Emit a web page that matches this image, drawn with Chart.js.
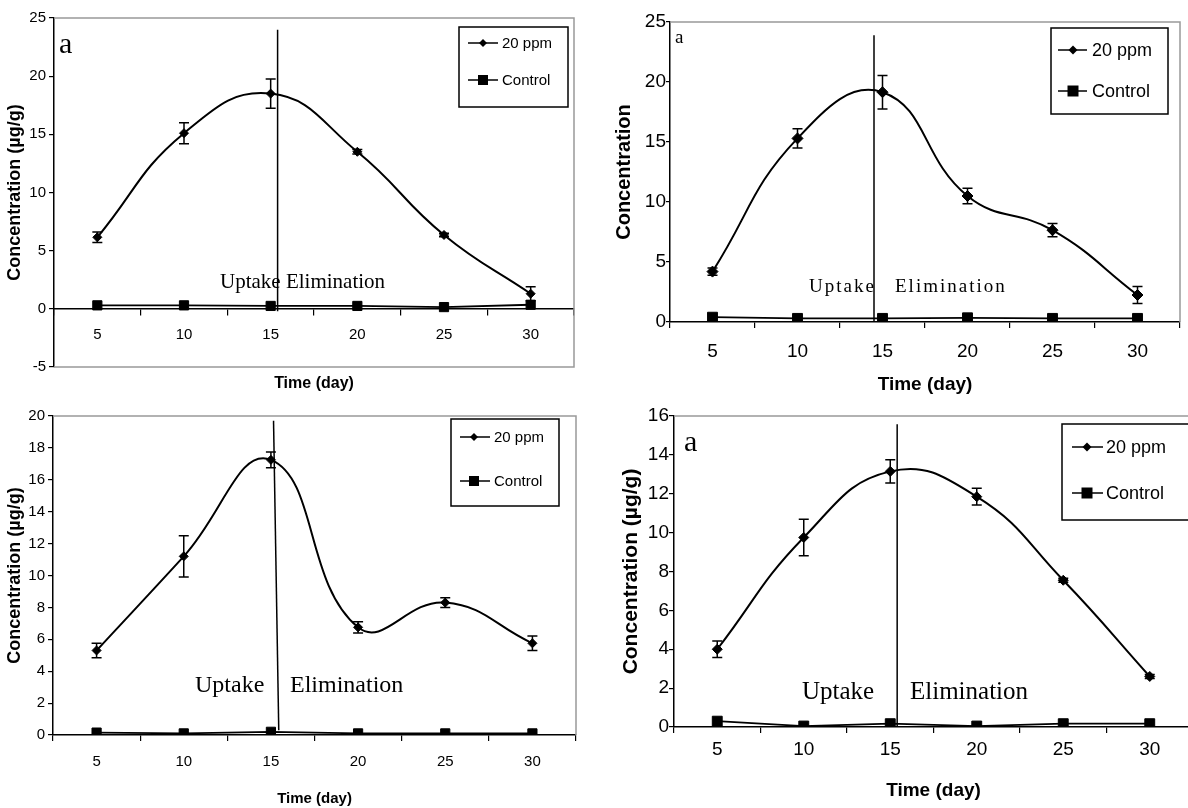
<!DOCTYPE html>
<html>
<head>
<meta charset="utf-8">
<script src="https://cdn.jsdelivr.net/npm/chart.js@4.4.1/dist/chart.umd.min.js"></script>
<style>
  html, body { margin: 0; padding: 0; background: #fff; overflow: hidden; width: 1188px; height: 808px; }
  canvas { position: absolute; }
</style>
</head>
<body>
<canvas id="c1" width="594" height="404" style="left:0;top:0"></canvas>
<canvas id="c2" width="594" height="404" style="left:594px;top:0"></canvas>
<canvas id="c3" width="594" height="404" style="left:0;top:404px"></canvas>
<canvas id="c4" width="620" height="404" style="left:594px;top:404px"></canvas>
<script>
// categories (sampling day)
const days = ['5', '10', '15', '20', '25', '30'];
const seriesNames = ['20 ppm', 'Control'];

// top-left panel
const ppmA = [6.15, 15.1, 18.5, 13.5, 6.35, 1.3];
const ppmAErr = [0.45, 0.9, 1.25, 0.2, 0.15, 0.6];
const controlA = [0.3, 0.3, 0.25, 0.25, 0.15, 0.35];

// top-right panel
const ppmB = [4.2, 15.3, 19.15, 10.5, 7.65, 2.25];
const ppmBErr = [0.3, 0.8, 1.4, 0.65, 0.55, 0.7];
const controlB = [0.4, 0.3, 0.3, 0.35, 0.3, 0.3];

// bottom-left panel
const ppmC = [5.3, 11.2, 17.25, 6.75, 8.3, 5.75];
const ppmCErr = [0.45, 1.3, 0.5, 0.35, 0.3, 0.45];
const controlC = [0.15, 0.1, 0.2, 0.1, 0.1, 0.1];

// bottom-right panel
const ppmD = [4.0, 9.75, 13.15, 11.85, 7.55, 2.6];
const ppmDErr = [0.43, 0.94, 0.6, 0.43, 0.1, 0.1];
const controlD = [0.3, 0.05, 0.17, 0.05, 0.17, 0.17];

Chart.defaults.font.family = 'Liberation Sans';
Chart.defaults.color = '#000';

// frame, divider line, notes, error bars and the boxed legend
const decor = {
  id: 'decor',
  beforeDatasetsDraw(chart, args, o) {
    const { ctx, chartArea: a, scales: { x, y } } = chart;
    ctx.save();
    ctx.strokeStyle = '#999';
    ctx.lineWidth = 1.5;
    ctx.beginPath();
    ctx.moveTo(a.left, a.top);
    ctx.lineTo(a.right, a.top);
    ctx.lineTo(a.right, a.bottom);
    if (o.frameBottom) ctx.lineTo(a.left, a.bottom);
    ctx.stroke();

    ctx.strokeStyle = '#000';
    ctx.lineWidth = 1.5;
    ctx.beginPath();
    ctx.moveTo(x.getPixelForValue(o.divider[0]), y.getPixelForValue(o.dividerTop));
    ctx.lineTo(x.getPixelForValue(o.divider[1]), y.getPixelForValue(o.dividerBottom));
    ctx.stroke();
    ctx.restore();
  },
  afterDatasetsDraw(chart, args, o) {
    const { ctx, scales: { y } } = chart;
    ctx.save();
    // error bars on the 20 ppm series
    const meta = chart.getDatasetMeta(0);
    const vals = chart.data.datasets[0].data;
    ctx.strokeStyle = '#000';
    ctx.lineWidth = 1.5;
    meta.data.forEach((pt, i) => {
      const e = o.errors[i];
      const top = y.getPixelForValue(vals[i] + e);
      const bot = y.getPixelForValue(vals[i] - e);
      ctx.beginPath();
      ctx.moveTo(pt.x, top); ctx.lineTo(pt.x, bot);
      ctx.moveTo(pt.x - 5, top); ctx.lineTo(pt.x + 5, top);
      ctx.moveTo(pt.x - 5, bot); ctx.lineTo(pt.x + 5, bot);
      ctx.stroke();
    });

    // notes inside the plot
    ctx.fillStyle = '#000';
    ctx.textBaseline = 'alphabetic';
    ctx.textAlign = 'left';
    o.notes.forEach(n => {
      ctx.font = n.size + 'px "Liberation Serif"';
      ctx.letterSpacing = (n.spacing || 0) + 'px';
      ctx.fillText(n.text, n.x, n.y);
    });
    ctx.letterSpacing = '0px';

    // legend box
    const L = o.legend;
    ctx.strokeStyle = '#000';
    ctx.lineWidth = 1.5;
    ctx.strokeRect(L.box[0], L.box[1], L.box[2], L.box[3]);
    ctx.font = L.font + 'px "Liberation Sans"';
    ctx.textBaseline = 'middle';
    chart.data.datasets.forEach((ds, i) => {
      const ry = L.rows[i];
      ctx.beginPath();
      ctx.moveTo(L.line[0], ry); ctx.lineTo(L.line[1], ry);
      ctx.stroke();
      const r = L.marks[i];
      ctx.beginPath();
      if (ds.pointStyle === 'rectRot') {
        ctx.moveTo(L.markX, ry - r); ctx.lineTo(L.markX + r, ry);
        ctx.lineTo(L.markX, ry + r); ctx.lineTo(L.markX - r, ry);
        ctx.closePath();
      } else {
        ctx.rect(L.markX - r, ry - r, 2 * r, 2 * r);
      }
      ctx.fill();
      ctx.fillText(ds.label, L.textX, ry + 1);
    });
    ctx.restore();
  }
};

function makePanel(id, p) {
  const cv = document.getElementById(id);
  const W = cv.width, H = cv.height;
  new Chart(cv, {
    type: 'line',
    data: {
      labels: days,
      datasets: [
        {
          label: seriesNames[0], data: p.ppm,
          borderColor: '#000', backgroundColor: '#000', borderWidth: 2,
          tension: 0.45, pointStyle: 'rectRot', pointRadius: p.diamond, pointBorderWidth: 1
        },
        {
          label: seriesNames[1], data: p.control,
          borderColor: '#000', backgroundColor: '#000', borderWidth: 1.8,
          tension: 0, pointStyle: 'rect', pointRadius: p.square, pointBorderWidth: 1
        }
      ]
    },
    options: {
      responsive: false,
      animation: false,
      devicePixelRatio: 1,
      layout: { padding: { left: 0, top: p.area.top, right: W - p.area.right, bottom: p.xAtZero ? H - p.area.bottom : 0 } },
      plugins: {
        legend: { display: false },
        tooltip: { enabled: false },
        decor: {
          frameBottom: !!p.xAtZero,
          divider: p.divider, dividerTop: p.dividerTop, dividerBottom: p.dividerBottom,
          errors: p.errors, notes: p.notes, legend: p.legend
        }
      },
      scales: {
        x: {
          offset: true,
          position: p.xAtZero ? { y: 0 } : 'bottom',
          grid: { offset: true, drawOnChartArea: false, drawTicks: true, tickLength: 6, color: '#000', lineWidth: 1.2 },
          border: { display: true, color: '#000', width: 1.5 },
          ticks: { font: { size: p.tick }, padding: p.xPad, maxRotation: 0 },
          title: { display: true, text: 'Time (day)', font: { size: p.xTitle, weight: 'bold' }, padding: { top: 0, bottom: p.xTitlePad } },
          afterFit(s) { s.height = p.xHeight; }
        },
        y: {
          min: p.yMin, max: p.yMax,
          grid: { drawOnChartArea: false, drawTicks: true, tickLength: p.yTick, color: '#000', lineWidth: 1.2 },
          border: { display: true, color: '#000', width: 1.5 },
          ticks: { stepSize: p.yStep, font: { size: p.tick }, padding: p.yPad },
          title: { display: true, text: p.yTitleText, font: { size: p.yTitle, weight: 'bold' }, padding: { top: p.yTitlePad, bottom: 0 } },
          afterFit(s) { s.width = p.area.left; }
        }
      }
    },
    plugins: [decor]
  });
}

makePanel('c1', {
  ppm: ppmA, errors: ppmAErr, control: controlA,
  area: { left: 54, top: 18, right: 574, bottom: 367 }, xAtZero: true,
  yMin: -5, yMax: 25, yStep: 5, tick: 15, yTick: 5, yPad: 3, xPad: 11,
  yTitleText: 'Concentration (µg/g)', yTitle: 18, yTitlePad: 4,
  xTitle: 16, xTitlePad: 11, xHeight: 95,
  divider: [2.08, 2.08], dividerTop: 24, dividerBottom: -0.2,
  diamond: 4.5, square: 6.5,
  notes: [
    { text: 'a', x: 59, y: 53, size: 30 },
    { text: 'Uptake Elimination', x: 220, y: 288, size: 21 }
  ],
  legend: { box: [459, 27, 109, 80], rows: [43, 80], line: [468, 498], markX: 483, textX: 502, font: 15, marks: [4, 5] }
});

makePanel('c2', {
  ppm: ppmB, errors: ppmBErr, control: controlB,
  area: { left: 76, top: 22, right: 590, bottom: 322 },
  yMin: 0, yMax: 25, yStep: 5, tick: 19, yTick: 4, yPad: 0, xPad: 12,
  yTitleText: 'Concentration', yTitle: 20, yTitlePad: 18,
  xTitle: 19, xTitlePad: 8, xHeight: 82,
  divider: [1.9, 1.9], dividerTop: 23.9, dividerBottom: 0,
  diamond: 5.5, square: 7,
  notes: [
    { text: 'a', x: 81, y: 43, size: 19 },
    { text: 'Uptake', x: 215, y: 292, size: 19, spacing: 2 },
    { text: 'Elimination', x: 301, y: 292, size: 19, spacing: 2 }
  ],
  legend: { box: [457, 28, 117, 86], rows: [50, 91], line: [464, 493], markX: 479, textX: 498, font: 18, marks: [4.5, 5.5] }
});

makePanel('c3', {
  ppm: ppmC, errors: ppmCErr, control: controlC,
  area: { left: 53, top: 10, right: 576, bottom: 331 },
  yMin: 0, yMax: 20, yStep: 2, tick: 15, yTick: 5, yPad: 3, xPad: 12,
  yTitleText: 'Concentration (µg/g)', yTitle: 18, yTitlePad: 4,
  xTitle: 15, xTitlePad: 0, xHeight: 73,
  divider: [2.03, 2.09], dividerTop: 19.7, dividerBottom: 0.3,
  diamond: 4.5, square: 6.5,
  notes: [
    { text: 'Uptake', x: 195, y: 288, size: 24 },
    { text: 'Elimination', x: 290, y: 288, size: 24 }
  ],
  legend: { box: [451, 15, 108, 87], rows: [33, 77], line: [460, 490], markX: 474, textX: 494, font: 15, marks: [4, 5] }
});

makePanel('c4', {
  ppm: ppmD, errors: ppmDErr, control: controlD,
  area: { left: 80, top: 12, right: 599, bottom: 323 },
  yMin: 0, yMax: 16, yStep: 2, tick: 19, yTick: 5, yPad: 0, xPad: 5,
  yTitleText: 'Concentration (µg/g)', yTitle: 21, yTitlePad: 25,
  xTitle: 19, xTitlePad: 6, xHeight: 81,
  divider: [2.08, 2.08], dividerTop: 15.57, dividerBottom: 0,
  diamond: 5, square: 7,
  notes: [
    { text: 'a', x: 90, y: 47, size: 30 },
    { text: 'Uptake', x: 208, y: 295, size: 25 },
    { text: 'Elimination', x: 316, y: 295, size: 25 }
  ],
  legend: { box: [468, 20, 160, 96], rows: [43, 89], line: [478, 509], markX: 493, textX: 512, font: 18, marks: [4.5, 5.5] }
});
</script>
</body>
</html>
